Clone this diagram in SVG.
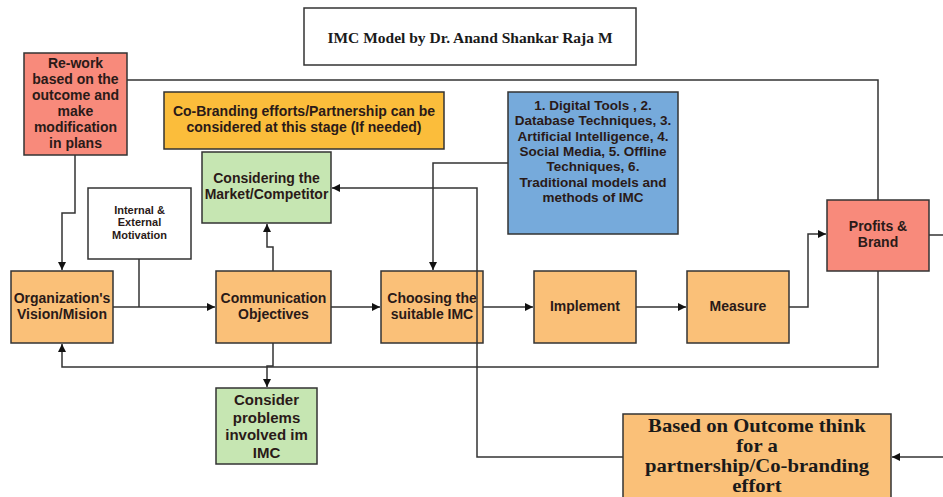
<svg xmlns="http://www.w3.org/2000/svg" width="943" height="497" viewBox="0 0 943 497">
<defs>
<marker id="arr" viewBox="0 0 10 10" refX="10" refY="5" markerWidth="11" markerHeight="8" markerUnits="userSpaceOnUse" orient="auto">
<path d="M0,0 L10,5 L0,10 z" fill="#111"/>
</marker>
<style>
.box{stroke:#333;stroke-width:1.5}
.org{fill:#FAC078}
.red{fill:#F88A7B}
.yel{fill:#FBBD3B}
.grn{fill:#C6E6B2}
.blu{fill:#76AADB}
.wht{fill:#fff}
.t{font-family:"Liberation Sans",Arial,sans-serif;font-weight:bold;font-size:14px;fill:#2a1a18;text-anchor:middle;dominant-baseline:central}
.s{font-family:"Liberation Serif","Times New Roman",serif;font-weight:bold;fill:#1a1a1a;text-anchor:middle;dominant-baseline:central}
.c{fill:none;stroke:#333;stroke-width:1.5}
</style>
</defs>
<rect width="943" height="497" fill="#fff"/>

<g id="title">
<rect x="304" y="8" width="332" height="57" class="wht box"/>
<text x="470" y="37" class="s" style="font-size:15.5px">IMC Model by Dr. Anand Shankar Raja M</text>
</g>

<g id="rework">
<rect x="24" y="53" width="103" height="102" class="red box"/>
<text class="t"><tspan x="75.5" y="63">Re-work</tspan><tspan x="75.5" y="79">based on the</tspan><tspan x="75.5" y="95">outcome and</tspan><tspan x="75.5" y="111">make</tspan><tspan x="75.5" y="127">modification</tspan><tspan x="75.5" y="143">in plans</tspan></text>
</g>

<g id="cobranding">
<rect x="164" y="92" width="280" height="57" class="yel box"/>
<text class="t"><tspan x="304" y="111">Co-Branding efforts/Partnership can be</tspan><tspan x="304" y="127">considered at this stage (If needed)</tspan></text>
</g>

<g id="market">
<rect x="202" y="152" width="129" height="71" class="grn box"/>
<text class="t"><tspan x="266.5" y="178">Considering the</tspan><tspan x="266.5" y="194">Market/Competitor</tspan></text>
</g>

<g id="tools">
<rect x="508" y="92" width="170" height="142" class="blu box"/>
<text class="t" style="font-size:13.5px"><tspan x="593" y="105">1. Digital Tools , 2.</tspan><tspan x="593" y="120.3">Database Techniques, 3.</tspan><tspan x="593" y="135.6">Artificial Intelligence, 4.</tspan><tspan x="593" y="150.9">Social Media, 5. Offline</tspan><tspan x="593" y="166.2">Techniques, 6.</tspan><tspan x="593" y="181.5">Traditional models and</tspan><tspan x="593" y="196.8">methods of IMC</tspan></text>
</g>

<g id="motivation">
<rect x="88" y="188" width="103" height="71" class="wht box"/>
<text class="t" style="font-size:11px"><tspan x="139.5" y="209.5">Internal &amp;</tspan><tspan x="139.5" y="222.3">External</tspan><tspan x="139.5" y="235.1">Motivation</tspan></text>
</g>

<g id="vision">
<rect x="11" y="271" width="102" height="72" class="org box"/>
<text class="t"><tspan x="62" y="298">Organization's</tspan><tspan x="62" y="314">Vision/Mision</tspan></text>
</g>

<g id="objectives">
<rect x="216" y="271" width="115" height="72" class="org box"/>
<text class="t"><tspan x="273.5" y="298">Communication</tspan><tspan x="273.5" y="314">Objectives</tspan></text>
</g>

<g id="choosing">
<rect x="381" y="271" width="102" height="72" class="org box"/>
<text class="t"><tspan x="432" y="298">Choosing the</tspan><tspan x="432" y="314">suitable IMC</tspan></text>
</g>

<g id="implement">
<rect x="534" y="271" width="102" height="72" class="org box"/>
<text x="585" y="306" class="t">Implement</text>
</g>

<g id="measure">
<rect x="687" y="271" width="102" height="72" class="org box"/>
<text x="738" y="306" class="t">Measure</text>
</g>

<g id="profits">
<rect x="827" y="200" width="102" height="71" class="red box"/>
<text class="t"><tspan x="878" y="226">Profits &amp;</tspan><tspan x="878" y="242">Brand</tspan></text>
</g>

<g id="problems">
<rect x="216" y="388" width="101" height="76" class="grn box"/>
<text class="t" style="font-size:15px"><tspan x="266.5" y="399">Consider</tspan><tspan x="266.5" y="416.5">problems</tspan><tspan x="266.5" y="434">involved im</tspan><tspan x="266.5" y="451.5">IMC</tspan></text>
</g>

<g id="outcome">
<rect x="623" y="414" width="268" height="90" class="org box"/>
<text class="s" style="font-size:18px" transform="scale(1.15,1)"><tspan x="658.26" y="426">Based on Outcome think</tspan><tspan x="658.26" y="446">for a</tspan><tspan x="658.26" y="466">partnership/Co-branding</tspan><tspan x="658.26" y="486">effort</tspan></text>
</g>

<g id="connectors">
<path class="c" d="M75,155 V213 H62 V270" marker-end="url(#arr)"/>
<path class="c" d="M127,80 H878 V200" stroke="#444"/>
<path class="c" d="M139,259 V307"/>
<path class="c" d="M113,307 H215" marker-end="url(#arr)"/>
<path class="c" d="M273,271 V247 H267 V224" marker-end="url(#arr)"/>
<path class="c" d="M273,343 V366 H267 V387" marker-end="url(#arr)"/>
<path class="c" d="M331,307 H380" marker-end="url(#arr)"/>
<path class="c" d="M508,163 H433 V270" marker-end="url(#arr)"/>
<path class="c" d="M483,307 H533" marker-end="url(#arr)"/>
<path class="c" d="M636,307 H686" marker-end="url(#arr)"/>
<path class="c" d="M789,307 H808 V234 H826" marker-end="url(#arr)"/>
<path class="c" d="M878,271 V367 H62 V344" marker-end="url(#arr)"/>
<path class="c" d="M929,235 H943"/>
<path class="c" d="M943,457 H892" marker-end="url(#arr)"/>
<path class="c" d="M623,457 H477 V188 H332" marker-end="url(#arr)"/>
</g>
</svg>
